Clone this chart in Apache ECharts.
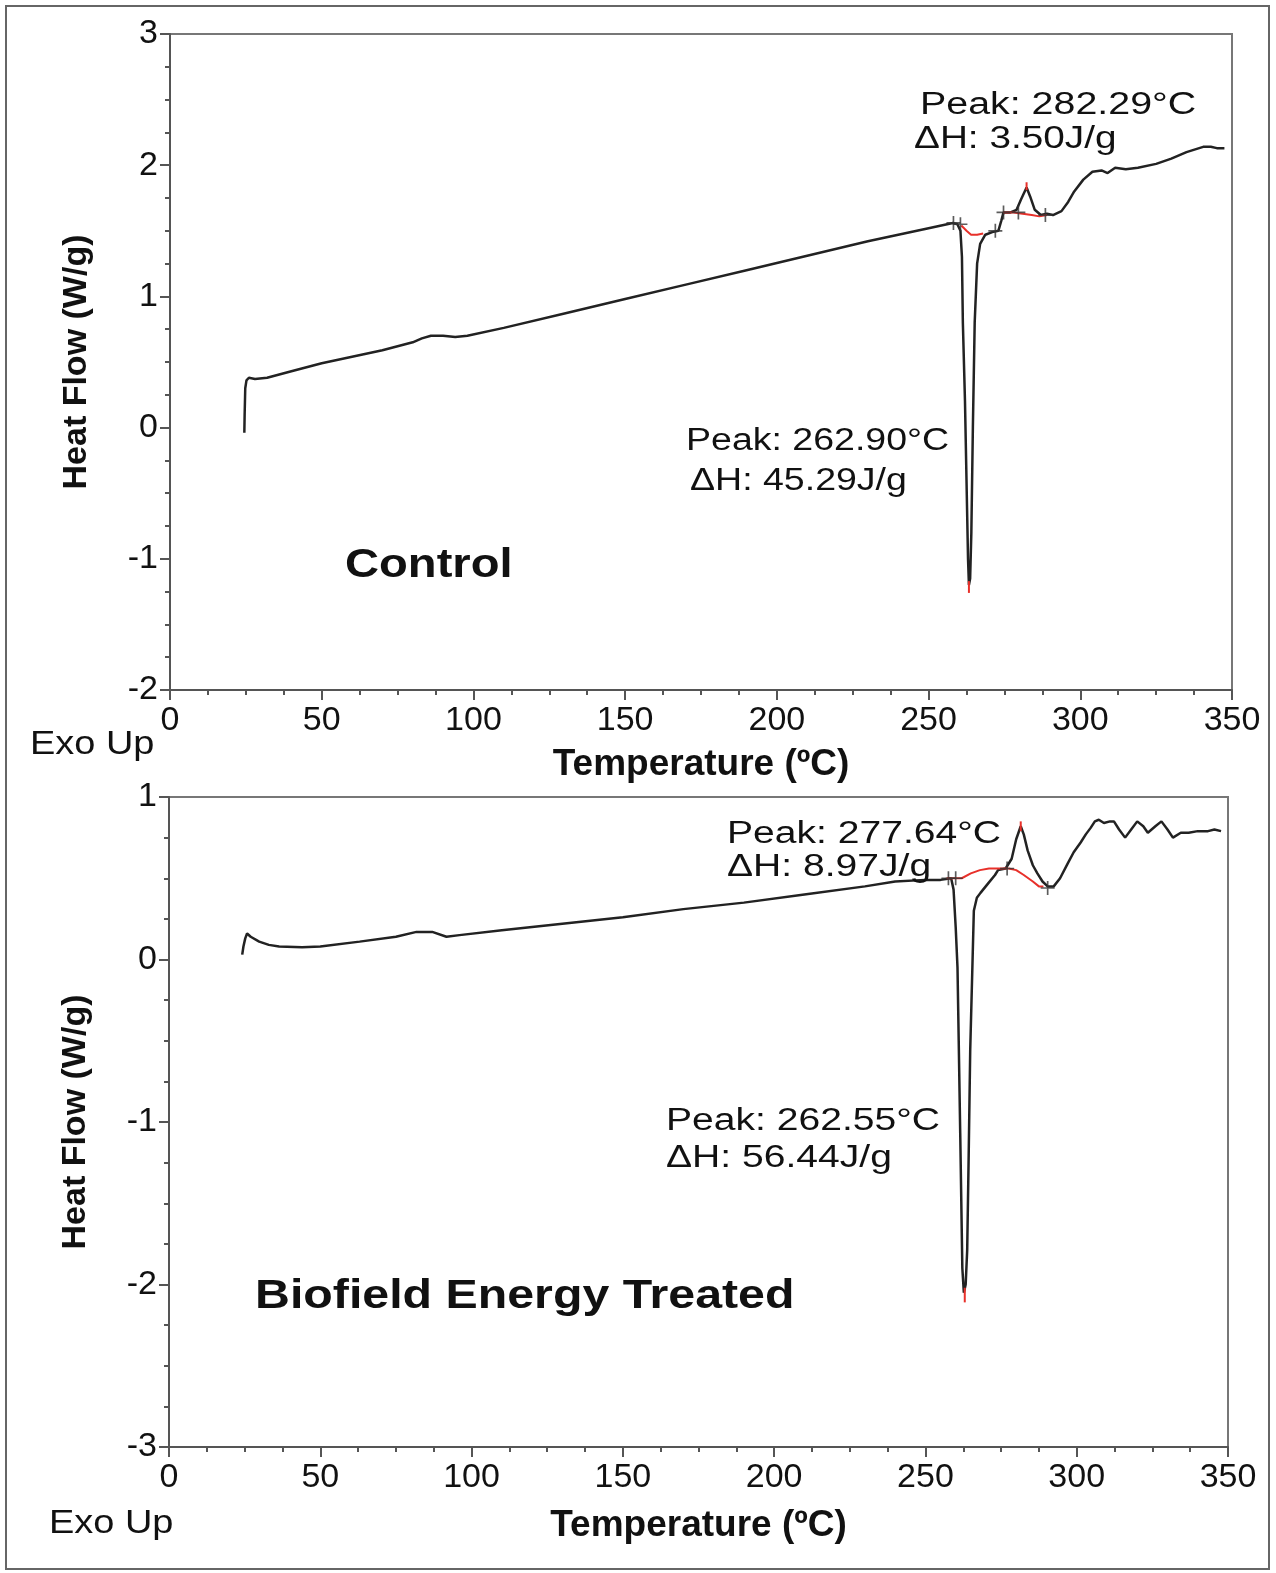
<!DOCTYPE html>
<html>
<head>
<meta charset="utf-8">
<script src="https://cdn.jsdelivr.net/npm/echarts@6/dist/echarts.min.js"></script>
<style>
html,body{margin:0;padding:0;background:#fff;}
#chart{width:1276px;height:1573px;}
</style>
</head>
<body>
<div id="chart"></div>
<script>
// ---------------- DATA ----------------
// X axis (Temperature, °C)
const xTicks = [0, 50, 100, 150, 200, 250, 300, 350];
const controlYTicks = [-2, -1, 0, 1, 2, 3];
const treatedYTicks = [-3, -2, -1, 0, 1];

// Control DSC curve [T, heat flow]
const controlCurve = [
  [24.5,-0.04],[24.6,0.10],[24.8,0.30],[25.2,0.36],[26,0.38],[28,0.37],[32,0.38],
  [40,0.43],[50,0.49],[60,0.54],[70,0.59],[80,0.65],[83,0.68],[86,0.70],[90,0.70],
  [94,0.69],[98,0.70],[110,0.76],[130,0.87],[150,0.98],[170,1.09],[190,1.20],
  [210,1.31],[230,1.42],[240,1.47],[250,1.52],[258,1.56],[259.5,1.55],[260.5,1.50],
  [261,1.30],[261.3,0.80],[262,0.20],[262.5,-0.40],[263,-1.00],[263.3,-1.20],
  [263.7,-1.15],[264.1,-0.80],[264.6,0.00],[265.2,0.80],[266,1.25],[267,1.40],
  [268.7,1.47],[271,1.49],[273,1.50],[274,1.58],[274.7,1.64],[277,1.64],[279,1.66],
  [280.5,1.74],[282.3,1.83],[283.5,1.76],[285,1.66],[287,1.62],[289,1.63],[291,1.62],
  [293.8,1.65],[296,1.72],[298,1.80],[301,1.89],[304,1.95],[307,1.96],[309,1.94],
  [311.5,1.98],[315,1.97],[319,1.98],[325,2.01],[330,2.05],[335,2.10],[340.5,2.14],
  [343,2.14],[345,2.13],[347.5,2.13]
];
const controlBaseline1 = [[260.8,1.54],[262.5,1.50],[264,1.47],[266,1.47],[268,1.48]];
const controlBaseline2 = [[274.5,1.64],[278,1.64],[281,1.63],[284,1.62],[286.5,1.61],[289,1.62]];
const controlTip1 = [[263.3,-1.17],[263.3,-1.26]];
const controlTip2 = [[282.3,1.81],[282.3,1.87]];
const controlLimits = [[258.2,1.56],[260.5,1.55],[272,1.50],[274.7,1.64],[279.6,1.64],[288.5,1.62]];

// Biofield Energy Treated DSC curve [T, heat flow]
const treatedCurve = [
  [24.2,0.03],[24.6,0.08],[25.2,0.13],[25.8,0.16],[27,0.14],[29.8,0.11],[33,0.09],
  [36.4,0.08],[44,0.075],[50,0.08],[63,0.11],[75,0.14],[81.8,0.17],[87,0.17],
  [91.7,0.14],[96,0.15],[110,0.18],[130,0.22],[150,0.26],[170,0.31],[190,0.35],
  [210,0.40],[230,0.45],[240,0.48],[250,0.49],[255,0.49],[258.5,0.50],[259.3,0.43],
  [260,0.20],[260.6,-0.05],[261,-0.50],[261.5,-1.07],[262.2,-1.90],[262.7,-2.05],
  [263.3,-2.00],[263.8,-1.79],[264.3,-1.20],[264.8,-0.56],[265.5,-0.06],[266,0.30],
  [267,0.38],[268.2,0.41],[270.8,0.47],[273,0.52],[274,0.55],[276.5,0.56],[278.5,0.62],
  [280,0.74],[281.5,0.82],[282.5,0.77],[283.8,0.67],[285.5,0.58],[287,0.53],
  [288.7,0.48],[290.4,0.45],[292.4,0.45],[294.5,0.50],[297,0.59],[299,0.66],
  [301.3,0.72],[303,0.77],[304.6,0.81],[306,0.85],[307.3,0.86],[309,0.84],[311,0.85],
  [312.3,0.85],[314,0.80],[316,0.75],[318,0.80],[320,0.85],[322,0.82],[323.5,0.78],
  [326,0.82],[328,0.85],[330,0.80],[331.8,0.75],[334.4,0.78],[337,0.78],[340,0.79],
  [343.4,0.79],[345.5,0.80],[347.7,0.79]
];
const treatedBaseline1 = [[257,0.50],[262,0.50],[265,0.53],[268,0.55],[271,0.56],[275,0.56],[277.5,0.56]];
const treatedBaseline2 = [[277.5,0.56],[280,0.55],[282.5,0.52],[285.5,0.48],[287.5,0.45],[289,0.45]];
const treatedTip1 = [[263,-2.02],[263,-2.11]];
const treatedTip2 = [[281.5,0.79],[281.5,0.85]];
const treatedLimits = [[257.6,0.50],[260,0.50],[277,0.56],[290.4,0.44]];

// Texts
const controlPeak2 = ['Peak: 282.29°C', 'ΔH: 3.50J/g'];
const controlPeak1 = ['Peak: 262.90°C', 'ΔH: 45.29J/g'];
const treatedPeak2 = ['Peak: 277.64°C', 'ΔH: 8.97J/g'];
const treatedPeak1 = ['Peak: 262.55°C', 'ΔH: 56.44J/g'];
const xName = 'Temperature (ºC)';
const yName = 'Heat Flow (W/g)';

// ---------------- CHART ----------------
const FONT = '"Liberation Sans", Arial, sans-serif';
const AX = '#555';
const chart = echarts.init(document.getElementById('chart'), null, {renderer: 'canvas'});

function xAxisDef(gi, gap) {
  return {
    type: 'value', gridIndex: gi, min: xTicks[0], max: xTicks[xTicks.length-1], interval: 50,
    name: xName, nameLocation: 'middle', nameGap: gap,
    nameTextStyle: {fontFamily: FONT, fontWeight: 'bold', fontSize: 37, color: '#111'},
    axisLine: {show: true, onZero: false, lineStyle: {color: AX, width: 2}},
    axisTick: {show: true, inside: false, length: 10, lineStyle: {color: AX, width: 2}},
    minorTick: {show: true, splitNumber: 4, length: 5, lineStyle: {color: AX, width: 2}},
    splitLine: {show: false},
    axisLabel: {fontFamily: FONT, fontSize: 34, color: '#111', margin: 14}
  };
}
function yAxisDef(gi, ticks) {
  return {
    type: 'value', gridIndex: gi, min: ticks[0], max: ticks[ticks.length-1], interval: 1,
    name: yName, nameLocation: 'middle', nameRotate: 90, nameGap: 76,
    nameTextStyle: {fontFamily: FONT, fontWeight: 'bold', fontSize: 34, color: '#111'},
    axisLine: {show: true, onZero: false, lineStyle: {color: AX, width: 2}},
    axisTick: {show: true, inside: false, length: 10, lineStyle: {color: AX, width: 2}},
    minorTick: {show: true, splitNumber: 4, length: 5, lineStyle: {color: AX, width: 2}},
    splitLine: {show: false},
    axisLabel: {fontFamily: FONT, fontSize: 34, color: '#111', margin: 12}
  };
}
function lineSeries(gi, data, color, width) {
  return {
    type: 'line', xAxisIndex: gi, yAxisIndex: gi, data: data, showSymbol: false,
    symbol: 'none', smooth: false, animation: false,
    lineStyle: {color: color, width: width}, z: color === '#222' ? 3 : 4
  };
}
const plusPath = 'path://M-0.6,-5L0.6,-5L0.6,-0.6L5,-0.6L5,0.6L0.6,0.6L0.6,5L-0.6,5L-0.6,0.6L-5,0.6L-5,-0.6L-0.6,-0.6Z';
function limitSeries(gi, data) {
  return {
    type: 'scatter', xAxisIndex: gi, yAxisIndex: gi, data: data, symbol: plusPath,
    symbolSize: 14, itemStyle: {color: '#333'}, animation: false, z: 5
  };
}
function txt(x, y, s, size, bold, sx) {
  return {
    type: 'text', x: x, y: y, scaleX: sx, scaleY: 1, z: 10,
    style: {text: s, fill: '#111', font: (bold ? 'bold ' : '') + size + 'px ' + FONT,
            textAlign: 'left', textVerticalAlign: 'middle'}
  };
}

const option = {
  backgroundColor: '#fff',
  animation: false,
  grid: [
    {left: 170, top: 34, width: 1062, height: 656, show: true, borderColor: '#777', borderWidth: 2, backgroundColor: 'transparent'},
    {left: 169, top: 797, width: 1059, height: 650, show: true, borderColor: '#777', borderWidth: 2, backgroundColor: 'transparent'}
  ],
  xAxis: [xAxisDef(0, 56), xAxisDef(1, 60)],
  yAxis: [yAxisDef(0, controlYTicks), yAxisDef(1, treatedYTicks)],
  series: [
    lineSeries(0, controlCurve, '#222', 2.5),
    lineSeries(0, controlBaseline1, '#e8302a', 2),
    lineSeries(0, controlBaseline2, '#e8302a', 2),
    lineSeries(0, controlTip1, '#e8302a', 2),
    lineSeries(0, controlTip2, '#e8302a', 2),
    limitSeries(0, controlLimits),
    lineSeries(1, treatedCurve, '#222', 2.5),
    lineSeries(1, treatedBaseline1, '#e8302a', 2),
    lineSeries(1, treatedBaseline2, '#e8302a', 2),
    lineSeries(1, treatedTip1, '#e8302a', 2),
    lineSeries(1, treatedTip2, '#e8302a', 2),
    limitSeries(1, treatedLimits)
  ],
  graphic: [
    {type: 'rect', shape: {x: 6, y: 6, width: 1263, height: 1563}, style: {fill: 'none', stroke: '#666', lineWidth: 2}, z: 1},
    txt(920, 105, controlPeak2[0], 31, false, 1.27),
    txt(914, 139, controlPeak2[1], 31, false, 1.25),
    txt(686, 441, controlPeak1[0], 31, false, 1.21),
    txt(690, 481, controlPeak1[1], 31, false, 1.21),
    txt(345, 566, 'Control', 41, true, 1.15),
    txt(30, 745, 'Exo Up', 33, false, 1.15),
    txt(727, 834, treatedPeak2[0], 31, false, 1.26),
    txt(727, 867, treatedPeak2[1], 31, false, 1.26),
    txt(666, 1121, treatedPeak1[0], 31, false, 1.26),
    txt(666, 1158, treatedPeak1[1], 31, false, 1.26),
    txt(255, 1297, 'Biofield Energy Treated', 41, true, 1.178),
    txt(49, 1524, 'Exo Up', 33, false, 1.15)
  ]
};
chart.setOption(option);
</script>
</body>
</html>
